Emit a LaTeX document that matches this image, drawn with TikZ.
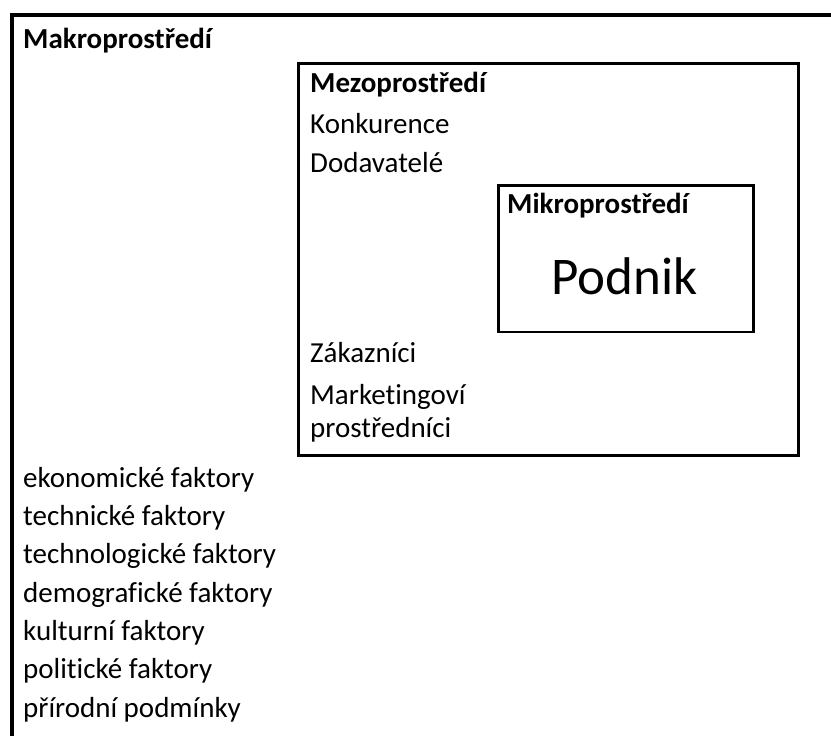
\documentclass[tikz,border=0pt]{standalone}
\usepackage{fontspec}
\setmainfont{Carlito}[Ligatures={NoCommon,NoRare},RawFeature={-liga;-dlig}]
\begin{document}
\begin{tikzpicture}[x=1pt,y=-1pt,
  txt/.style={anchor=base west,inner sep=0pt,font=\fontsize{29}{35}\selectfont},
  ttl/.style={txt,font=\fontsize{29}{35}\selectfont\bfseries},
  frame/.style={draw=black,line width=#1}]
\useasboundingbox (0,0) rectangle (831,736);
% outer frame (top and left only)
\coordinate (otl) at (12,14.5);
\coordinate (otr) at (831,14.5);
\coordinate (obl) at (12,736);
\draw[frame=4pt] (otr) -- (otl) -- (obl);
% meso box
\node[frame=3pt,inner sep=0pt,minimum width=500pt,minimum height=392.5pt,anchor=north west] (meso) at (297,61.5) {};
% micro box
\node[frame=2.5pt,inner sep=0pt,minimum width=255pt,minimum height=146.5pt,anchor=north west] (mikro) at (497,184) {};
% titles
\node[ttl] (makro) at (23,48) {Makroprostředí};
\node[ttl] (mezo) at (310,92) {Mezoprostředí};
\node[ttl] (mikrot) at (507,213) {Mikroprostředí};
\node[anchor=base,inner sep=0pt,font=\fontsize{53}{60}\selectfont] (podnik) at (624.5,294) {Podnik};
% meso items
\node[txt] (konk) at (310,133) {Konkurence};
\node[txt] (doda) at (310,172) {Dodavatelé};
\node[txt] (zak) at (310,362) {Zákazníci};
\node[txt] (mark) at (310,404) {Marketingoví};
\node[txt] (pros) at (310,437) {prostředníci};
% macro factors
\node[txt] (f1) at (23,487) {ekonomické faktory};
\node[txt] (f2) at (23,525.3) {technické faktory};
\node[txt] (f3) at (23,563.7) {technologické faktory};
\node[txt] (f4) at (23,602) {demografické faktory};
\node[txt] (f5) at (23,640.3) {kulturní faktory};
\node[txt] (f6) at (23,678.7) {politické faktory};
\node[txt] (f7) at (23,717) {přírodní podmínky};
\end{tikzpicture}
\end{document}
